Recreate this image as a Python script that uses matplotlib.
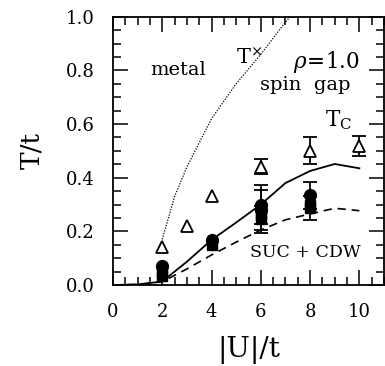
import matplotlib
matplotlib.use("Agg")
import matplotlib.pyplot as plt
from matplotlib.ticker import MultipleLocator, FormatStrFormatter
import numpy as np

# ---- data ----
U_line = [0, 1, 2, 3, 4, 5, 6, 7, 8, 9, 10]
T_solid = [0, 0.002, 0.013, 0.087, 0.168, 0.233, 0.30, 0.38, 0.425, 0.451, 0.435]
T_dashed = [0, 0.002, 0.012, 0.06, 0.112, 0.16, 0.205, 0.243, 0.265, 0.286, 0.277]

U_cross = [2, 2.5, 3, 3.5, 4, 5, 6, 7, 7.2]
T_cross = [0.17, 0.33, 0.44, 0.53, 0.62, 0.75, 0.86, 0.98, 1.0]

U_tri = [2, 3, 4, 6, 8, 10]
T_tri = [0.142, 0.22, 0.33, 0.44, 0.50, 0.518]
E_tri = [0, 0, 0, 0.028, 0.05, 0.037]

U_circ = [2, 4, 6, 6, 8]
T_circ = [0.072, 0.168, 0.30, 0.28, 0.335]
E_circ = [0, 0, 0.073, 0.075, 0.05]

U_sq = [2, 2, 4, 6, 6, 8, 8]
T_sq = [0.045, 0.032, 0.148, 0.26, 0.245, 0.30, 0.287]
E_sq = [0, 0, 0, 0, 0.05, 0, 0.044]

x_ticks = [0, 2, 4, 6, 8, 10]
y_ticks = [0.0, 0.2, 0.4, 0.6, 0.8, 1.0]

plt.rcParams['font.family'] = ['DejaVu Serif']
plt.rcParams['mathtext.fontset'] = 'dejavuserif'

fig = plt.figure(figsize=(3.85, 3.66), dpi=100)
ax = fig.add_axes([113/385, (366-285)/366, (384-113)/385, (285-16.7)/366])

ax.plot(U_line, T_solid, color='black', lw=1.3)
ax.plot(U_line, T_dashed, color='black', lw=1.2, dashes=(5, 3.5))
ax.plot(U_cross, T_cross, color='black', lw=0.9, linestyle=(0, (1, 1.2)))

def errs(U, T, E):
    u = [a for a, e in zip(U, E) if e > 0]
    t = [b for b, e in zip(T, E) if e > 0]
    e = [e for e in E if e > 0]
    return u, t, e

for U, T, E in [(U_tri, T_tri, E_tri), (U_circ, T_circ, E_circ), (U_sq, T_sq, E_sq)]:
    u, t, e = errs(U, T, E)
    ax.errorbar(u, t, yerr=e, fmt='none', ecolor='black', elinewidth=1.3,
                capsize=5, capthick=1.3)

ax.plot(U_tri, T_tri, linestyle='none', marker='^', ms=8, mfc='white', mec='black', mew=1.3)
ax.plot(U_sq, T_sq, linestyle='none', marker='s', ms=7, mfc='black', mec='black')
ax.plot(U_circ, T_circ, linestyle='none', marker='o', ms=8.5, mfc='black', mec='black')

ax.set_xlim(0, 11)
ax.set_ylim(0, 1.0)
ax.set_xticks(x_ticks)
ax.set_yticks(y_ticks)
ax.xaxis.set_minor_locator(MultipleLocator(0.5))
ax.yaxis.set_minor_locator(MultipleLocator(0.05))
ax.yaxis.set_major_formatter(FormatStrFormatter('%.1f'))
ax.tick_params(which='both', direction='in', top=True, right=True, width=1.1)
ax.tick_params(which='major', length=11, labelsize=13, pad=13)
ax.tick_params(which='minor', length=6)
for s in ax.spines.values():
    s.set_linewidth(1.3)

ax.set_xlabel('|U|/t', fontsize=20, labelpad=11)
ax.set_ylabel('T/t', fontsize=19, labelpad=16)

ax.text(1.5, 0.80, 'metal', fontsize=14, va='center', ha='left')
ax.text(5.0, 0.81, r'$\mathrm{T}^{\times}$', fontsize=15, va='bottom', ha='left')
ax.text(7.3, 0.83, r'$\rho\!=\!1.0$', fontsize=15.5, va='center', ha='left')
ax.text(5.95, 0.745, 'spin  gap', fontsize=14, va='center', ha='left')
ax.text(8.6, 0.615, r'$\mathrm{T}_{\mathrm{C}}$', fontsize=15.5, va='center', ha='left')
ax.text(5.55, 0.12, 'SUC + CDW', fontsize=12.5, va='center', ha='left')

fig.savefig('out.png', dpi=100)
